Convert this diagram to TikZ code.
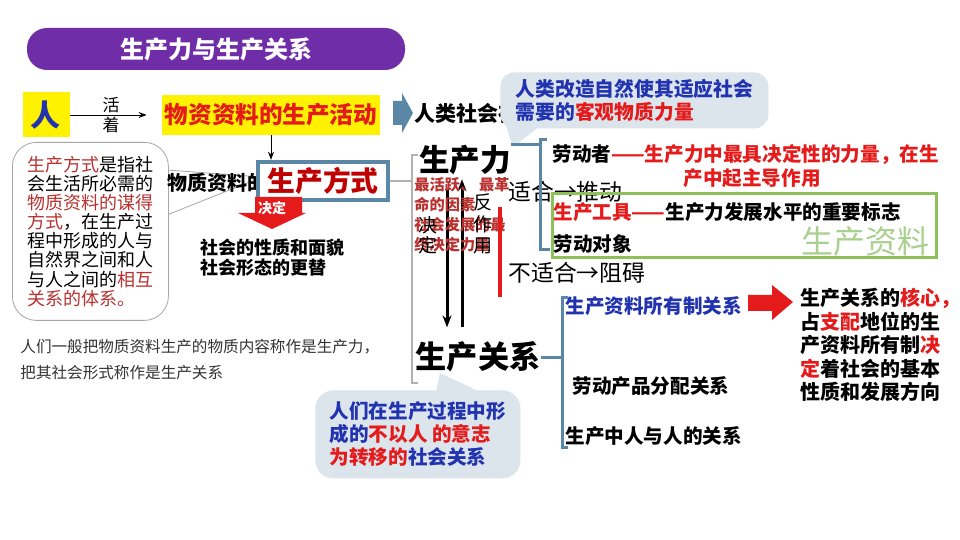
\documentclass[tikz,border=0pt]{standalone}
\usepackage{fontspec}
\setmainfont{Noto Sans CJK SC}
\usetikzlibrary{positioning,arrows.meta}

\definecolor{titlepurple}{HTML}{6F2DA8}
\definecolor{steel}{HTML}{5A87A6}
\definecolor{callgray}{HTML}{DCE4EC}
\definecolor{leafgreen}{HTML}{8DC05A}
\definecolor{palegreen}{HTML}{A9D08E}
\definecolor{deepred}{HTML}{C00000}
\definecolor{brick}{HTML}{B8312F}
\definecolor{royal}{HTML}{2233B0}
\definecolor{brightred}{HTML}{E51A1A}

\newcommand{\fsz}[2]{\fontsize{#1}{#2}\selectfont}

\begin{document}
\begin{tikzpicture}[x=0.5pt,y=-0.5pt,
    lbl/.style={inner sep=0pt, anchor=west},
    item/.style={lbl, font=\fsz{9.8}{12}\bfseries},
    bracket/.style={steel, line width=1.5pt},
    callout/.style={fill=callgray, rounded corners=7pt, anchor=north west, align=left, text=royal, inner sep=0pt}]
    \useasboundingbox[fill=white] (0,0) rectangle (960,540);

    % Title bar
    \node[fill=titlepurple, rounded corners=10pt, minimum width=189pt, minimum height=21pt,
        text=white, font=\fsz{12}{14}\bfseries] (title) at (216,49) {生产力与生产关系};

    % Person and production activity
    \node[fill=yellow, minimum width=23.5pt, minimum height=22.5pt, inner sep=0pt,
        text=royal, font=\fsz{15}{15}\bfseries] (ren) at (46,115) {人};
    \node[fill=yellow, minimum width=109pt, minimum height=20pt, inner sep=0pt,
        text=brightred, font=\fsz{11.8}{12}\bfseries] (act) at (271,115) {物资资料的生产活动};
    \draw[-{Stealth[length=4pt]}, shorten >=7.5pt] (ren.east) -- (act.west)
        node[pos=0.45, above=0pt, font=\fsz{8.5}{9}, inner sep=1pt] {活}
        node[pos=0.45, below=0pt, font=\fsz{8.5}{9}, inner sep=1pt] {着};
    \fill[steel] (393,101) -- (402,101) -- (402,93) -- (413,113) -- (402,133) -- (402,125) -- (393,125) -- cycle;
    \node[lbl, font=\fsz{10.5}{12}\bfseries] (base) at (414,113) {人类社会存};

    % Note on productive forces
    \node[callout, minimum width=134pt, minimum height=28pt, font=\fsz{9.9}{11.5}\bfseries] (forceNote) at (500,72)
        {人类改造自然使其适应社会\\需要的\textcolor{brightred}{客观物质力量}};
    \fill[callgray] (506,126) -- (513,147) -- (540,126) -- cycle;

    % Note on mode of production
    \draw[gray!70, fill=white] (167,170) -- (262,177) -- (167,215);
    \node[draw=gray!70, fill=white, rounded corners=12pt, minimum width=78pt, minimum height=89pt,
        anchor=north west, align=left, inner sep=0pt, font=\fsz{9}{9.55}] (modeNote) at (12,142)
        {\textcolor{brick}{生产方式}是指社\\会生活所必需的\\\textcolor{brick}{物质资料的谋得}\\\textcolor{brick}{方式}，在生产过\\程中形成的人与\\自然界之间和人\\与人之间的\textcolor{brick}{相互}\\\textcolor{brick}{关系的体系。}};

    % Mode of production
    \node[lbl, font=\fsz{10}{12}\bfseries] (matter) at (167,183) {物质资料的};
    \node[draw=steel, line width=2.2pt, fill=white, minimum width=65pt, minimum height=19pt, inner sep=0pt,
        text=deepred, font=\fsz{13.9}{14}\bfseries] (mode) at (323,181) {生产方式};
    \draw[-{Stealth[length=4pt]}] (act.south) -- (act.south |- mode.north);
    \fill[brightred] (255,197) -- (302,197) -- (302,213) -- (306,213) -- (272,229) -- (238,213) -- (255,213) -- cycle;
    \node[text=white, font=\fsz{7}{8}\bfseries, inner sep=0pt] (decide) at (272,208) {决定};
    \node[anchor=north west, align=left, inner sep=0pt, font=\fsz{9}{10}\bfseries] (society) at (200,238)
        {社会的性质和面貌\\社会形态的更替};

    % Summary text
    \node[anchor=north west, align=left, inner sep=0pt, text=black!80, font=\fsz{7.8}{13}] (summary) at (20,339)
        {人们一般把物质资料生产的物质内容称作是生产力，\\把其社会形式称作是生产关系};

    % Productive forces and relations of production
    \node[inner sep=0pt, font=\fsz{15.3}{16}\bfseries] (force) at (465,160) {生产力};
    \node[inner sep=0pt, font=\fsz{15.6}{16}\bfseries] (relation) at (478,357) {生产关系};
    \draw[gray!60, line width=0.6pt] (418,155) -- (412,155) -- (412,383) -- (418,383);
    \draw[gray!60, line width=0.6pt] (mode.east) -- (412,181);

    % Decide and react
    \draw[line width=1.5pt, -{Stealth[length=6pt]}, shorten <=7pt, shorten >=7pt]
        ([xshift=-9pt]force.south) -- ([xshift=-9pt]force.south |- relation.north);
    \draw[line width=1.5pt, -{Stealth[length=6pt]}, shorten <=7pt, shorten >=2pt]
        ([xshift=-1.5pt]force.south |- relation.north) -- ([xshift=-1.5pt]force.south);
    \node[lbl, text=brick, align=left, font=\fsz{7.6}{10}\bfseries] (active) at (414,215)
        {最活跃、\hspace{2pt}最革\\命的因素\\社会发展的最\\终决定力量};
    \node[inner sep=0pt, align=center, font=\fsz{9.5}{10}] (decideLbl) at (428,235) {决\\定};
    \node[inner sep=0pt, align=center, font=\fsz{9.5}{10.75}] (reactLbl) at (483,224) {反\\作\\用};
    \draw[brightred, line width=2pt] (500,207) -- (500,297);
    \node[lbl, font=\fsz{11.4}{12}] (fit) at (508,192) {适合→推动};
    \node[lbl, font=\fsz{11.4}{12}] (unfit) at (508,273) {不适合→阻碍};

    % Elements of productive forces
    \draw[bracket] (force.east |- 0,145) -- (540,145);
    \draw[bracket] (547,140) -- (540,140) -- (540,250) -- (550,250);
    \node[item] (worker) at (552,155) {劳动者\textcolor{brightred}{——生产力中最具决定性的力量，在生}};
    \node[item, text=brightred] (worker2) at (683,178) {产中起主导作用};
    \node[draw=leafgreen, line width=1.6pt, minimum width=192pt, minimum height=32pt] (meansBox) at (744.5,225.5) {};
    \node[item, text=brightred] (tool) at (553,212) {生产工具——\textcolor{black}{生产力发展水平的重要标志}};
    \node[item] (object) at (553,244) {劳动对象};
    \node[text=palegreen, inner sep=0pt, font=\fsz{16}{16}] (meansLbl) at (865,241) {生产资料};

    % Elements of relations of production
    \draw[bracket] (relation.east) -- (562,357);
    \draw[bracket] (568,298) -- (562,298) -- (562,447) -- (568,447);
    \node[item, text=royal] (own) at (565,306) {生产资料所有制关系};
    \node[item] (share) at (572,386) {劳动产品分配关系};
    \node[item] (people) at (565,436) {生产中人与人的关系};
    \fill[brightred] (748,295) -- (772,295) -- (772,285) -- (793,302) -- (772,320) -- (772,311) -- (748,311) -- cycle;
    \node[anchor=north west, align=left, inner sep=0pt, font=\fsz{10}{11.75}\bfseries] (core) at (800,288)
        {生产关系的\textcolor{brightred}{核心，}\\占\textcolor{brightred}{支配}地位的生\\产资料所有制\textcolor{brightred}{决}\\\textcolor{brightred}{定}着社会的基本\\性质和发展方向};

    % Note on relations of production
    \fill[callgray] (436,392) -- (440,373) -- (480,392) -- cycle;
    \node[callout, minimum width=102.5pt, minimum height=44pt, rounded corners=9pt, font=\fsz{9.8}{11.5}\bfseries] (relNote) at (315,390)
        {人们在生产过程中形\\成的\textcolor{brightred}{不以人 的意志}\\\textcolor{brightred}{为转移的}社会关系};
\end{tikzpicture}
\end{document}
